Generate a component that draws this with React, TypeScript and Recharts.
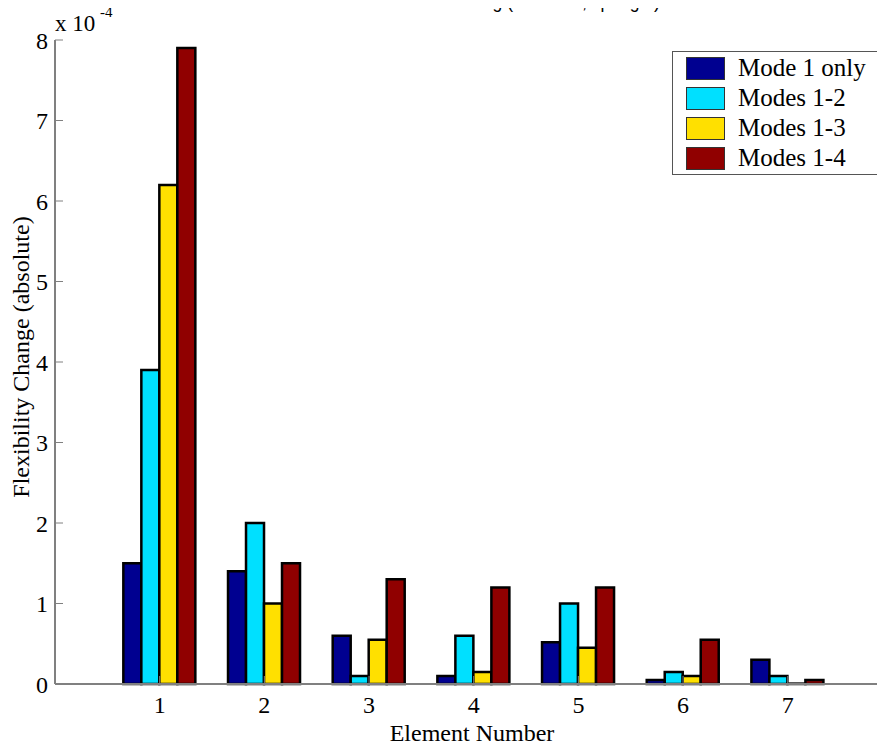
import React from 'react';
import { BarChart, Bar, XAxis, YAxis } from 'recharts';

// values in units of 1e-4
const elements = [1, 2, 3, 4, 5, 6, 7];
const mode1Only = [1.5, 1.4, 0.6, 0.1, 0.52, 0.05, 0.3];
const modes12 = [3.9, 2.0, 0.1, 0.6, 1.0, 0.15, 0.1];
const modes13 = [6.2, 1.0, 0.55, 0.15, 0.45, 0.1, 0.005];
const modes14 = [7.9, 1.5, 1.3, 1.2, 1.2, 0.55, 0.05];
const yTicks = [0, 1, 2, 3, 4, 5, 6, 7, 8];

const seriesNames = ['Mode 1 only', 'Modes 1-2', 'Modes 1-3', 'Modes 1-4'];
const seriesKeys = ['m1', 'm12', 'm13', 'm14'];
const colors = ['#000090', '#00E0FF', '#FFE000', '#900000'];

const data = elements.map((x, i) => ({
  x,
  m1: mode1Only[i],
  m12: modes12[i],
  m13: modes13[i],
  m14: modes14[i],
}));

const serif = "'Liberation Serif', 'Times New Roman', serif";

const App: React.FC = () => {
  return (
    <div style={{ position: 'relative', width: 885, height: 749, margin: -8, background: '#fff', fontFamily: serif }}>
      <BarChart
        width={885}
        height={749}
        data={data}
        margin={{ top: 40, right: 2, left: 0, bottom: 0 }}
        barGap={0}
      >
        <XAxis
          dataKey="x"
          type="number"
          domain={[0, 7.91]}
          ticks={elements}
          allowDataOverflow
          height={65}
          tickSize={-8}
          tickMargin={20}
          axisLine={{ stroke: '#808080', strokeWidth: 2 }}
          tickLine={{ stroke: '#808080' }}
          tick={{ fill: '#000', fontSize: 24, style: { fontFamily: serif } }}
          label={() => (
            <text x={472} y={741} textAnchor="middle" fill="#000" fontSize={24} style={{ fontFamily: serif }}>
              Element Number
            </text>
          )}
        />
        <XAxis
          xAxisId="top"
          dataKey="x"
          type="number"
          orientation="top"
          domain={[0, 7.91]}
          ticks={elements}
          allowDataOverflow
          height={0}
          tickSize={-8}
          tick={false}
          axisLine={{ stroke: '#000', strokeWidth: 1.5 }}
          tickLine={{ stroke: '#000' }}
        />
        <YAxis
          type="number"
          domain={[0, 8]}
          ticks={yTicks}
          width={55}
          tickSize={-8}
          tickMargin={15}
          axisLine={{ stroke: '#808080', strokeWidth: 2 }}
          tickLine={{ stroke: '#808080' }}
          tick={{ fill: '#000', fontSize: 24, style: { fontFamily: serif } }}
          label={() => (
            <text
              x={29}
              y={357}
              transform="rotate(-90 29 357)"
              textAnchor="middle"
              fill="#000"
              fontSize={24}
              style={{ fontFamily: serif }}
            >
              Flexibility Change (absolute)
            </text>
          )}
        />
        <YAxis
          yAxisId="right"
          orientation="right"
          type="number"
          domain={[0, 8]}
          ticks={yTicks}
          width={0}
          tickSize={-8}
          tick={false}
          axisLine={{ stroke: '#808080', strokeWidth: 1.5 }}
          tickLine={{ stroke: '#808080' }}
        />
        {seriesKeys.map((k, i) => (
          <Bar
            key={k}
            dataKey={k}
            name={seriesNames[i]}
            fill={colors[i]}
            stroke="#000"
            strokeWidth={2.5}
            barSize={18}
            isAnimationActive={false}
          />
        ))}
      </BarChart>

      {/* figure title, mostly cut off by the top edge */}
      <div style={{ position: 'absolute', left: 0, top: 0, width: 885, height: 14, overflow: 'hidden' }}>
        <div
          style={{
            position: 'absolute',
            left: 218,
            top: -6,
            fontFamily: "'Liberation Sans', Arial, sans-serif",
            fontSize: 17.5,
            lineHeight: '17.5px',
            whiteSpace: 'nowrap',
            color: '#000',
          }}
        >
          FINAL BAMID FIGURE 2: Flex Chng (T10 dam, spring 1)
        </div>
      </div>

      {/* exponent label */}
      <div style={{ position: 'absolute', left: 55, top: 12, fontSize: 23, lineHeight: '23px', whiteSpace: 'nowrap' }}>
        x 10
      </div>
      <div style={{ position: 'absolute', left: 100, top: 5, fontSize: 15, lineHeight: '15px', whiteSpace: 'nowrap' }}>
        -4
      </div>

      {/* legend */}
      <div
        style={{
          position: 'absolute',
          left: 672,
          top: 51,
          width: 209,
          height: 122,
          border: '1px solid #555',
          background: '#fff',
          boxSizing: 'content-box',
        }}
      >
        {seriesNames.map((n, i) => (
          <div key={n} style={{ position: 'absolute', left: 13, top: 3 + i * 30, height: 26, display: 'flex', alignItems: 'center' }}>
            <div style={{ width: 39, height: 23, background: colors[i], border: '1px solid #333', boxSizing: 'border-box' }} />
            <span style={{ marginLeft: 13, fontSize: 25, lineHeight: '26px', whiteSpace: 'nowrap' }}>{n}</span>
          </div>
        ))}
      </div>
    </div>
  );
};

export default App;
